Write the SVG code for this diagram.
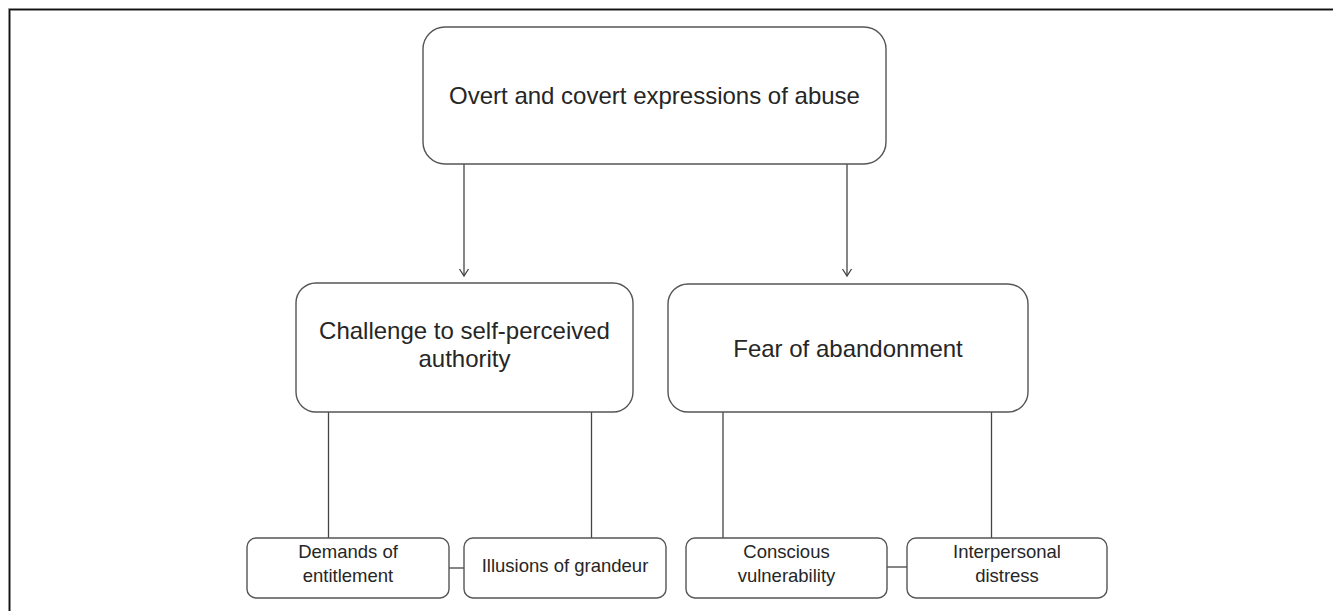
<svg xmlns="http://www.w3.org/2000/svg" width="1333" height="611" viewBox="0 0 1333 611">
<defs>
<style>
.box{fill:#fff;stroke:#555;stroke-width:1.4}
.ln{fill:none;stroke:#444;stroke-width:1.3}
.t{font-family:"Liberation Sans",Arial,sans-serif;fill:#262626;text-anchor:middle}
.l{font-size:24px}
.s{font-size:18.5px}
</style>
<marker id="arr" markerWidth="12" markerHeight="12" refX="10" refY="6" orient="auto" markerUnits="userSpaceOnUse" viewBox="0 0 12 12">
<path d="M3,1.5 L10,6 L3,10.5" fill="none" stroke="#444" stroke-width="1.3"/>
</marker>
</defs>
<rect width="1333" height="611" fill="#fff"/>
<path d="M9.5,611 V9.5 H1333" fill="none" stroke="#bbb" stroke-width="3"/>
<path d="M9.5,611 V9.5 H1333" fill="none" stroke="#111" stroke-width="1.5"/>
<g id="connectors">
<line class="ln" x1="464" y1="164" x2="464" y2="276" marker-end="url(#arr)"/>
<line class="ln" x1="847" y1="164" x2="847" y2="276" marker-end="url(#arr)"/>
<line class="ln" x1="328.5" y1="412" x2="328.5" y2="538"/>
<line class="ln" x1="591.5" y1="412" x2="591.5" y2="538"/>
<line class="ln" x1="723" y1="412" x2="723" y2="538"/>
<line class="ln" x1="991.5" y1="412" x2="991.5" y2="538"/>
<line class="ln" x1="449" y1="568" x2="464" y2="568"/>
<line class="ln" x1="887" y1="567" x2="907" y2="567"/>
</g>
<g id="root">
<rect class="box" x="423" y="27" width="463" height="137" rx="22"/>
<text class="t l" x="654.5" y="104">Overt and covert expressions of abuse</text>
</g>
<g id="challenge">
<rect class="box" x="296" y="283" width="337" height="129" rx="20"/>
<text class="t l" x="464.5" y="339">Challenge to self-perceived</text>
<text class="t l" x="464.5" y="367">authority</text>
</g>
<g id="fear">
<rect class="box" x="668" y="284" width="360" height="128" rx="20"/>
<text class="t l" x="848" y="357">Fear of abandonment</text>
</g>
<g id="demands">
<rect class="box" x="247" y="538" width="202" height="60" rx="9"/>
<text class="t s" x="348" y="558">Demands of</text>
<text class="t s" x="348" y="582">entitlement</text>
</g>
<g id="illusions">
<rect class="box" x="464" y="538" width="202" height="60" rx="9"/>
<text class="t s" x="565" y="572">Illusions of grandeur</text>
</g>
<g id="conscious">
<rect class="box" x="686" y="538" width="201" height="60" rx="9"/>
<text class="t s" x="786.5" y="558">Conscious</text>
<text class="t s" x="786.5" y="582">vulnerability</text>
</g>
<g id="interpersonal">
<rect class="box" x="907" y="538" width="200" height="60" rx="9"/>
<text class="t s" x="1007" y="558">Interpersonal</text>
<text class="t s" x="1007" y="582">distress</text>
</g>
</svg>
